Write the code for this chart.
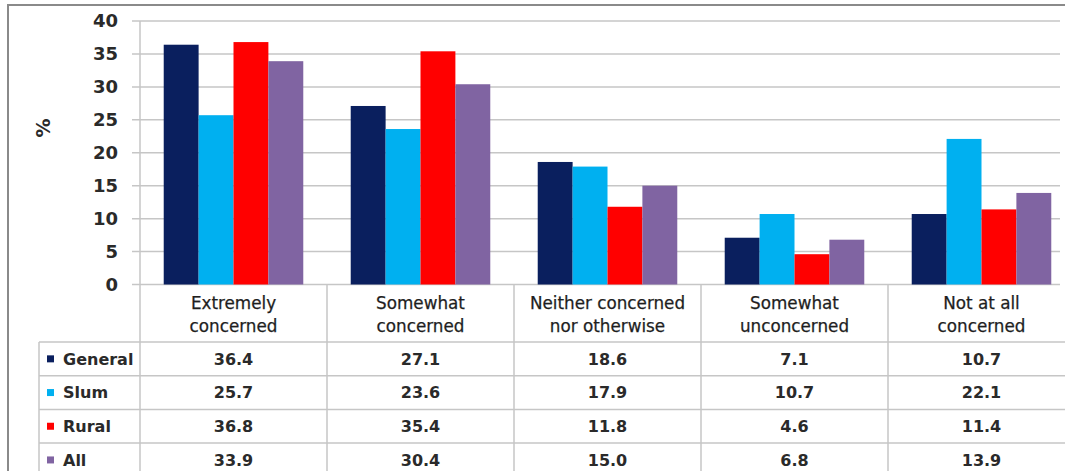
<!DOCTYPE html>
<html>
<head>
<meta charset="utf-8">
<script src="https://cdn.jsdelivr.net/npm/d3@7"></script>
<style>
  html, body { margin: 0; padding: 0; background: #fff; }
  svg { display: block; font-family: "DejaVu Sans", sans-serif; }
  .tick-label { font-size: 18px; font-weight: 700; fill: #2a2a2a; }
  .cat-label { font-size: 16.8px; fill: #1e1e1e; stroke: #1e1e1e; stroke-width: 0.25px; }
  .cell { font-size: 16px; font-weight: 700; fill: #2a2a2a; }
</style>
</head>
<body>
<div id="chart"></div>
<script>
const categories = [
  ["Extremely", "concerned"],
  ["Somewhat", "concerned"],
  ["Neither concerned", "nor otherwise"],
  ["Somewhat", "unconcerned"],
  ["Not at all", "concerned"],
];
const seriesNames = ["General", "Slum", "Rural", "All"];
const seriesColors = ["#0a1f5e", "#00b0f0", "#ff0000", "#8064a2"];
const general = [36.4, 27.1, 18.6, 7.1, 10.7];
const slum = [25.7, 23.6, 17.9, 10.7, 22.1];
const rural = [36.8, 35.4, 11.8, 4.6, 11.4];
const all = [33.9, 30.4, 15.0, 6.8, 13.9];
const yTicks = [0, 5, 10, 15, 20, 25, 30, 35, 40];

class VisTableBar {
  constructor() {
    this.width = 1065;
    this.height = 471;
    this.margin = { top: 21, right: 5, bottom: 186.5, left: 140 };
    this.rowHeight = 33.7;
    this.headerHeight = 57.5;
    this.tableLeft = 39;
    this.gridColor = "#c6c6c6";

    this.series = seriesNames.map((name, i) => ({
      name,
      color: seriesColors[i],
      values: [general, slum, rural, all][i],
    }));

    this.x = d3
      .scaleBand()
      .domain(categories.map((d, i) => i))
      .range([this.margin.left, 1075]);
    this.xs = d3
      .scaleBand()
      .domain(seriesNames)
      .range([0, this.x.bandwidth()])
      .paddingOuter(0.68)
      .paddingInner(0);
    this.y = d3
      .scaleLinear()
      .domain([0, 40])
      .range([this.height - this.margin.bottom, this.margin.top]);

    this.svg = d3
      .select("#chart")
      .append("svg")
      .attr("width", this.width)
      .attr("height", this.height);

    this.render();
  }

  render() {
    this.renderGrid();
    this.renderBars();
    this.renderTable();
    this.renderFrame();
  }

  renderGrid() {
    const g = this.svg.append("g");
    const right = 1060;
    g.selectAll("line.grid")
      .data(yTicks)
      .join("line")
      .attr("class", "grid")
      .attr("x1", this.margin.left - 8)
      .attr("x2", right)
      .attr("y1", (d) => this.y(d))
      .attr("y2", (d) => this.y(d))
      .attr("stroke", this.gridColor)
      .attr("stroke-width", 1.5);

    g.selectAll("text")
      .data(yTicks)
      .join("text")
      .attr("class", "tick-label")
      .attr("x", 118)
      .attr("y", (d) => this.y(d))
      .attr("dy", "0.36em")
      .attr("text-anchor", "end")
      .text((d) => d);

    g.append("text")
      .attr("class", "tick-label")
      .attr("transform", "translate(43,128)rotate(-90)")
      .attr("text-anchor", "middle")
      .attr("dy", "0.36em")
      .style("font-size", "19px")
      .text("%");
  }

  renderBars() {
    this.svg
      .append("g")
      .selectAll("g")
      .data(this.series)
      .join("g")
      .attr("fill", (d) => d.color)
      .selectAll("rect")
      .data((s) => s.values.map((v, i) => ({ name: s.name, v, i })))
      .join("rect")
      .attr("x", (d) => this.x(d.i) + this.xs(d.name))
      .attr("width", this.xs.bandwidth())
      .attr("y", (d) => this.y(d.v))
      .attr("height", (d) => this.y(0) - this.y(d.v));
  }

  renderTable() {
    const g = this.svg.append("g");
    const top = this.y(0);
    const rowsTop = top + this.headerHeight;
    const bottom = this.height;

    // column separators
    const bounds = categories.map((d, i) => this.x(i));
    g.selectAll("line.col")
      .data(bounds)
      .join("line")
      .attr("class", "col")
      .attr("x1", (d) => d)
      .attr("x2", (d) => d)
      .attr("y1", (d, i) => (i === 0 ? this.margin.top : top))
      .attr("y2", bottom)
      .attr("stroke", this.gridColor)
      .attr("stroke-width", 1.5);

    g.append("line")
      .attr("x1", this.tableLeft)
      .attr("x2", this.tableLeft)
      .attr("y1", rowsTop)
      .attr("y2", bottom)
      .attr("stroke", this.gridColor)
      .attr("stroke-width", 1.5);

    g.selectAll("line.row")
      .data(d3.range(this.series.length))
      .join("line")
      .attr("class", "row")
      .attr("x1", this.tableLeft)
      .attr("x2", 1065)
      .attr("y1", (d) => rowsTop + d * this.rowHeight)
      .attr("y2", (d) => rowsTop + d * this.rowHeight)
      .attr("stroke", this.gridColor)
      .attr("stroke-width", 1.5);

    // category headers
    g.selectAll("text.cat-label")
      .data(categories)
      .join("text")
      .attr("class", "cat-label")
      .attr("text-anchor", "middle")
      .attr("transform", (d, i) => `translate(${this.x(i) + this.x.bandwidth() / 2},${top + 18})`)
      .selectAll("tspan")
      .data((d) => d)
      .join("tspan")
      .attr("x", 0)
      .attr("dy", (d, i) => (i === 0 ? "0.36em" : "1.42em"))
      .text((d) => d);

    // rows
    const rows = g
      .selectAll("g.row")
      .data(this.series)
      .join("g")
      .attr("class", "row")
      .attr("transform", (d, i) => `translate(0,${rowsTop + (i + 0.5) * this.rowHeight})`);

    rows
      .append("rect")
      .attr("x", 47)
      .attr("y", -3.5)
      .attr("width", 7)
      .attr("height", 7)
      .attr("fill", (d) => d.color);

    rows
      .append("text")
      .attr("class", "cell")
      .attr("x", 63)
      .attr("dy", "0.36em")
      .text((d) => d.name);

    rows
      .selectAll("text.val")
      .data((d) => d.values)
      .join("text")
      .attr("class", "cell val")
      .attr("text-anchor", "middle")
      .attr("x", (d, i) => this.x(i) + this.x.bandwidth() / 2)
      .attr("dy", "0.36em")
      .text((d) => d3.format(".1f")(d));
  }

  renderFrame() {
    this.svg
      .append("path")
      .attr("d", `M8,${this.height}V5H${this.width}`)
      .attr("fill", "none")
      .attr("stroke", "#8a8a8a")
      .attr("stroke-width", 2);
  }
}

new VisTableBar();
</script>
</body>
</html>
